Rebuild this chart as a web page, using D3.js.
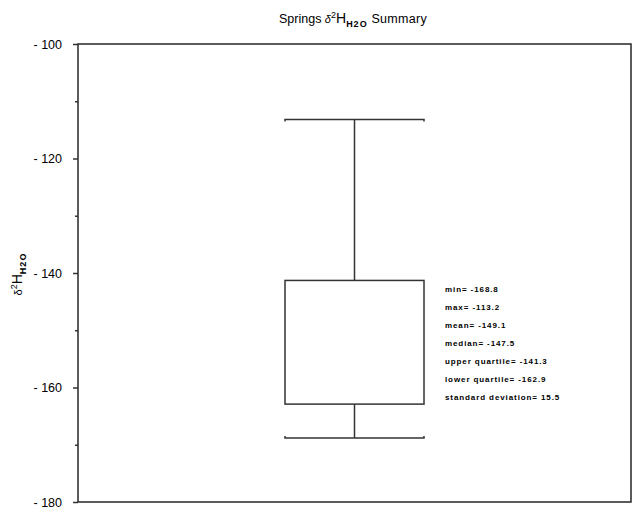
<!DOCTYPE html>
<html>
<head>
<meta charset="utf-8">
<script src="https://cdn.jsdelivr.net/npm/d3@7"></script>
<style>
  body { margin: 0; background: #fff; }
  svg { display: block; }
  text { font-family: "Liberation Sans", Arial, sans-serif; fill: #000; }
</style>
</head>
<body>
<svg id="chart" width="641" height="512"></svg>
<script>
// Summary statistics of spring water δ²H
const statNames = ["min", "max", "mean", "median", "upper quartile", "lower quartile", "standard deviation"];
const statValues = [-168.8, -113.2, -149.1, -147.5, -141.3, -162.9, 15.5];
const majorTicks = [-180, -160, -140, -120, -100];
const minorTicks = [-170, -150, -130, -110];
const yDomain = [-180, -100];

(function () {
const stat = Object.fromEntries(statNames.map((n, i) => [n, statValues[i]]));

const svg = d3.select("#chart");
const plotLeft = 78, plotRight = 631, plotTop = 44, plotBottom = 502;

const y = d3.scaleLinear().domain(yDomain).range([plotBottom, plotTop]);
const x = d3.scaleLinear().domain([0, 1]).range([plotLeft, plotRight]);

// plot frame
svg.append("rect")
  .attr("x", plotLeft).attr("y", plotTop)
  .attr("width", plotRight - plotLeft).attr("height", plotBottom - plotTop)
  .attr("fill", "none").attr("stroke", "#333").attr("stroke-width", 1.6);

// y axis with major labelled ticks
const fmt = d => "- " + Math.abs(d);
const axis = d3.axisLeft(y).tickValues(majorTicks).tickFormat(fmt).tickSize(5).tickPadding(11);
const gAxis = svg.append("g").attr("transform", `translate(${plotLeft},0)`).call(axis);
gAxis.select(".domain").remove();
gAxis.selectAll("line").attr("stroke", "#333").attr("stroke-width", 1.5);
gAxis.selectAll("text").style("font-size", "12.5px").attr("font-family", "Liberation Sans, Arial, sans-serif");

// minor ticks
const minor = d3.axisLeft(y).tickValues(minorTicks).tickFormat("").tickSize(3);
const gMinor = svg.append("g").attr("transform", `translate(${plotLeft},0)`).call(minor);
gMinor.select(".domain").remove();
gMinor.selectAll("line").attr("stroke", "#333").attr("stroke-width", 1.5);

// box and whiskers
const cx = x(0.5), halfW = 69.5;
const g = svg.append("g").attr("stroke", "#333").attr("stroke-width", 1.5).attr("fill", "none");
g.append("line").attr("x1", cx).attr("x2", cx).attr("y1", y(stat["max"])).attr("y2", y(stat["upper quartile"]));
g.append("line").attr("x1", cx).attr("x2", cx).attr("y1", y(stat["lower quartile"])).attr("y2", y(stat["min"]));
g.append("rect")
  .attr("x", cx - halfW).attr("y", y(stat["upper quartile"]))
  .attr("width", 2 * halfW).attr("height", y(stat["lower quartile"]) - y(stat["upper quartile"]))
  .attr("fill", "#fff");
[stat["max"], stat["min"]].forEach((v, i) => {
  const yy = y(v), d = i === 0 ? 2 : -2;
  g.append("path").attr("d", `M${cx - halfW},${yy + d}V${yy}H${cx + halfW}V${yy + d}`);
});

// statistics labels
const labels = svg.append("g").attr("transform", "translate(445,0)");
statNames.forEach((n, i) => {
  labels.append("text")
    .attr("x", 0).attr("y", 292 + i * 18)
    .style("font-size", "8px").style("font-weight", "bold").style("letter-spacing", "0.9px")
    .text(`${n}= ${statValues[i]}`);
});

// title
const title = svg.append("text").attr("x", 353).attr("y", 23).attr("text-anchor", "middle").style("font-size", "12.5px");
title.append("tspan").text("Springs ");
title.append("tspan").text("δ").style("font-size", "11px").attr("font-style", "italic");
title.append("tspan").text("2").attr("dy", -5).style("font-size", "9px");
title.append("tspan").text("H").attr("dy", 5).style("font-size", "14px");
title.append("tspan").text("H2O").attr("dy", 4).style("font-size", "9px").style("font-weight", "bold").style("letter-spacing", "1px");
title.append("tspan").text(" Summary").attr("dy", -4).style("letter-spacing", "0.3px");

// y axis title
const yt = svg.append("text").attr("transform", "translate(22,274) rotate(-90)").attr("text-anchor", "middle").style("font-size", "12px");
yt.append("tspan").text("δ").style("font-size", "11px");
yt.append("tspan").text("2").attr("dy", -5).style("font-size", "9px");
yt.append("tspan").text("H").attr("dy", 5).style("font-size", "14px");
yt.append("tspan").text("H2O").attr("dy", 4).style("font-size", "9px").style("font-weight", "bold").style("letter-spacing", "1px");
})();
</script>
</body>
</html>
